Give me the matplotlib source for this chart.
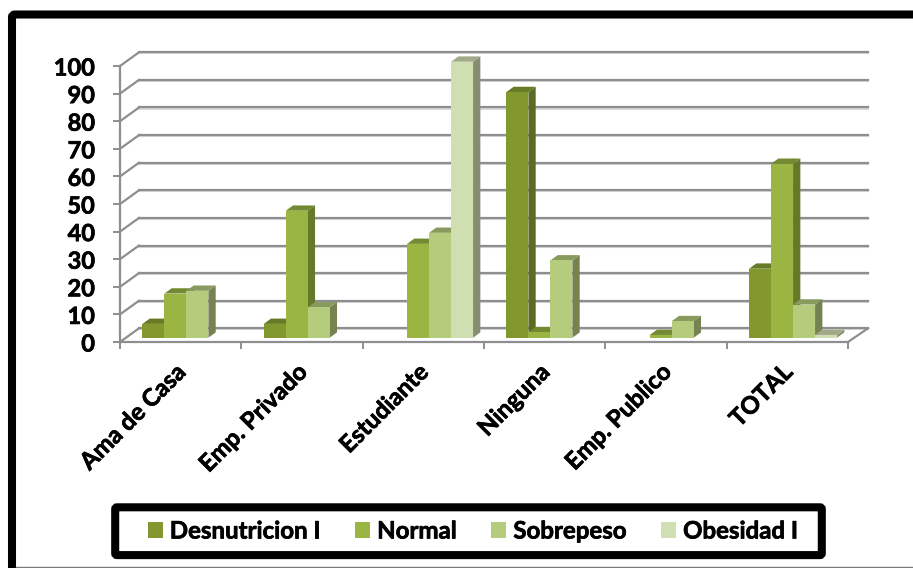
import numpy as np
import matplotlib
matplotlib.use('Agg')
import matplotlib.pyplot as plt
import matplotlib.patches as patches
import matplotlib.patheffects as pe

categories = ['Ama de Casa', 'Emp. Privado', 'Estudiante', 'Ninguna', 'Emp. Publico', 'TOTAL']
series_names = ['Desnutricion I', 'Normal', 'Sobrepeso', 'Obesidad I']
desnutricion = [5, 5, 0, 89, 0, 25]
normal = [16, 46, 34, 2, 1, 63]
sobrepeso = [17, 11, 38, 28, 6, 12]
obesidad = [0, 0, 100, 0, 0, 1]
y_ticks = list(range(0, 101, 10))

W, H = 913, 568
front = ['#82982f', '#9bb543', '#b5cc7c', '#d0dfb2']
side = ['#5b6c22', '#66792a', '#768250', '#868e72']
top = ['#677a26', '#748a30', '#889a5e', '#a0aa88']
GRID = '#8e8e8e'
FS = 17.3
heavy = [pe.withStroke(linewidth=0.5, foreground='black')]

plt.rcParams['font.family'] = ['Lato', 'DejaVu Sans']
plt.rcParams['font.weight'] = 'bold'

fig = plt.figure(figsize=(W / 100, H / 100), dpi=100, facecolor='white')

# pixel helper for things outside the plot
bg = fig.add_axes([0, 0, 1, 1], zorder=0)
bg.set_xlim(0, W)
bg.set_ylim(H, 0)
bg.axis('off')
# outer frame, runs off the right edge, thin grey line at the bottom
bg.add_patch(patches.FancyBboxPatch((12, 14.5), 950, 600, boxstyle='round,pad=0,rounding_size=3',
                                    fc='white', ec='black', lw=5.8))
bg.plot([16, W], [567.4, 567.4], color='#777777', lw=1)
bg.add_patch(patches.FancyBboxPatch((115.2, 507.3), 706.6, 47.8, boxstyle='round,pad=0,rounding_size=2',
                                    fc='white', ec='black', lw=5.8))

# axes box is the front plane of the 3d look
x0, x1, y0, y1 = 120, 848, 342, 66
ax = fig.add_axes([x0 / W, 1 - y0 / H, (x1 - x0) / W, (y0 - y1) / H], zorder=1)
ax.set_xlim(0, 6)
ax.set_ylim(0, 100)
ax.patch.set_alpha(0)
for s in ['top', 'right']:
    ax.spines[s].set_visible(False)
for s in ['left', 'bottom']:
    ax.spines[s].set_color(GRID)
    ax.spines[s].set_linewidth(1.6)

px = 6 / (x1 - x0)
py = 100 / (y0 - y1)

# back wall and floor
dx, dy = 19 * px, 13.7 * py
for v in y_ticks:
    ax.plot([dx, 6 + 20 * px], [v + dy - 0.4, v + dy - 0.4], color='#d8d8d8', lw=1.5, zorder=1, clip_on=False)
    ax.plot([dx, 6 + 20 * px], [v + dy, v + dy], color=GRID, lw=1.6, zorder=1.1, clip_on=False)
    ax.plot([0, dx], [v, v + dy], color=GRID, lw=1.6, zorder=1.1, clip_on=False)
ax.plot([6, 6 + 20 * px], [0, dy], color=GRID, lw=1.6, zorder=1.1, clip_on=False)

# bars
bar_w = 22 * px
start = 22.4 * px
base = 4.3 * py
ddx, ddy = 7.3 * px, 5.3 * py
all_series = [desnutricion, normal, sobrepeso, obesidad]
for i, vals in enumerate(all_series):
    for c, v in enumerate(vals):
        if v == 0:
            continue
        left = c + start + i * bar_w
        z = 3 + c + i * 0.1
        ax.bar(left, v, bar_w, bottom=base, align='edge', color=front[i], zorder=z + 0.05,
               clip_on=False, linewidth=0)
        r = left + bar_w
        t = base + v
        ax.add_patch(patches.Polygon([(r, base), (r + ddx, base + ddy), (r + ddx, t + ddy), (r, t)],
                                     fc=side[i], ec='none', zorder=z, clip_on=False))
        ax.add_patch(patches.Polygon([(left, t), (left + ddx, t + ddy), (r + ddx, t + ddy), (r, t)],
                                     fc=top[i], ec='none', zorder=z, clip_on=False))

ax.set_yticks(y_ticks)
ax.set_xticks(range(7))
ax.set_xticklabels([])
ax.tick_params(axis='both', color=GRID, width=1.4, length=5)
ax.tick_params(axis='y', labelsize=17, pad=13, labelcolor='black')
for lab in ax.get_yticklabels():
    lab.set_path_effects(heavy)

for c, name in enumerate(categories):
    ax.annotate(name, xy=(c + 0.5, 0), xycoords='data', xytext=(-5, -13), textcoords='offset points',
                rotation=45, ha='right', va='top', rotation_mode='anchor',
                fontsize=FS, fontweight='bold', color='black', path_effects=heavy)

handles = [patches.Patch(fc=front[i], ec='none') for i in range(4)]
leg = fig.legend(handles, series_names, loc='center', bbox_to_anchor=(473 / W, 1 - 531 / H), ncol=4,
                 frameon=False, fontsize=FS, handlelength=0.62, handleheight=0.62,
                 handletextpad=0.29, columnspacing=1.45, labelcolor='black')
for t in leg.get_texts():
    t.set_path_effects(heavy)

fig.savefig('out.png', dpi=100)
